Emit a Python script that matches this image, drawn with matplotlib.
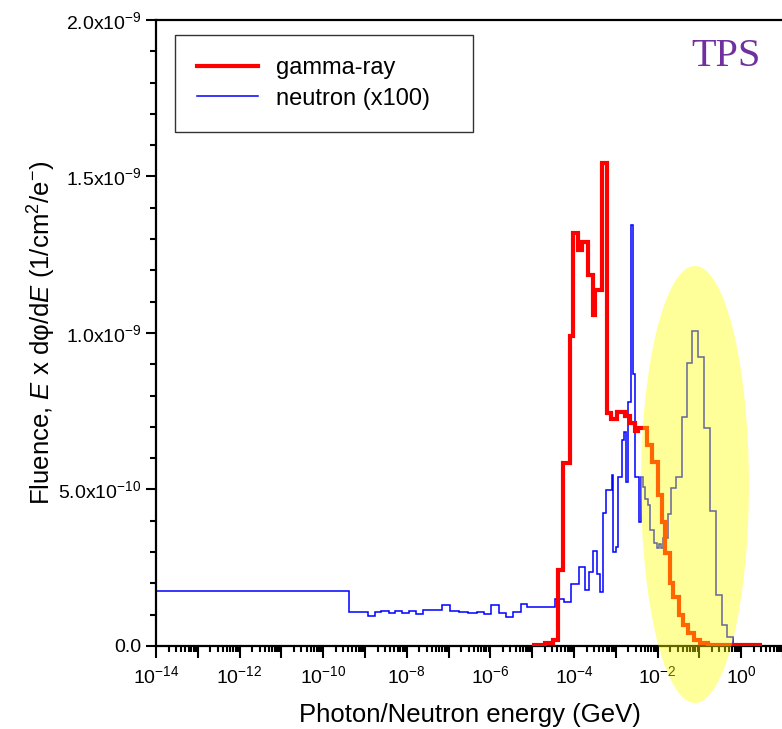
import numpy as np
import matplotlib
matplotlib.use('Agg')
import matplotlib.pyplot as plt
from matplotlib.patches import Ellipse
from matplotlib.legend_handler import HandlerStepPatch
from matplotlib.ticker import LogLocator, FuncFormatter, MultipleLocator, NullFormatter

plt.rcParams['font.family'] = 'Liberation Sans'
plt.rcParams['mathtext.fontset'] = 'custom'
plt.rcParams['mathtext.rm'] = 'Liberation Sans'
plt.rcParams['mathtext.it'] = 'Liberation Sans:italic'

# bin edges given as log10(E / GeV), fluence in units of 1e-9 1/cm^2/e-
gamma_log_edges = [-5.0, -4.7, -4.5, -4.38, -4.27, -4.1, -4.02, -3.9, -3.82, -3.67,
                   -3.55, -3.50, -3.34, -3.22, -3.12, -2.98, -2.78, -2.66, -2.54, -2.46,
                   -2.26, -2.14, -2.00, -1.90, -1.82, -1.70, -1.62, -1.50, -1.385, -1.27,
                   -1.13, -0.99, -0.79, 0.49]
gamma_values = [0.003, 0.008, 0.02, 0.243, 0.585, 0.99, 1.32, 1.265, 1.29, 1.185,
                1.058, 1.137, 1.543, 0.743, 0.725, 0.748, 0.735, 0.712, 0.688, 0.697,
                0.642, 0.587, 0.482, 0.397, 0.296, 0.200, 0.158, 0.100, 0.067, 0.041,
                0.019, 0.009, 0.002]

# neutron spectrum, already multiplied by 100
neutron_log_edges = [-14, -9.376, -8.92, -8.76, -8.62, -8.42, -8.28, -8.12, -7.94, -7.78,
                     -7.62, -7.17, -6.97, -6.74, -6.53, -6.33, -6.15, -5.99, -5.79, -5.63,
                     -5.47, -5.27, -5.13, -4.45, -4.24, -4.07, -3.88, -3.74, -3.63, -3.55,
                     -3.44, -3.38, -3.30, -3.235, -3.10, -3.06, -3.00, -2.94, -2.86, -2.80,
                     -2.76, -2.70, -2.64, -2.60, -2.54, -2.44, -2.40, -2.36, -2.30, -2.22,
                     -2.18, -2.09, -2.02, -1.97, -1.93, -1.864, -1.744, -1.687, -1.567, -1.424,
                     -1.29, -1.17, -1.03, -0.89, -0.75, -0.61, -0.47, -0.35, -0.19, 0.49]
neutron_values = [0.176, 0.110, 0.097, 0.110, 0.113, 0.106, 0.113, 0.106, 0.113, 0.102,
                  0.114, 0.131, 0.113, 0.108, 0.106, 0.110, 0.102, 0.131, 0.106, 0.091,
                  0.110, 0.135, 0.126, 0.150, 0.142, 0.197, 0.253, 0.179, 0.237, 0.305,
                  0.230, 0.171, 0.424, 0.498, 0.546, 0.300, 0.317, 0.539, 0.658, 0.685,
                  0.525, 0.780, 1.345, 0.869, 0.541, 0.397, 0.541, 0.509, 0.470, 0.450,
                  0.370, 0.330, 0.312, 0.325, 0.312, 0.344, 0.422, 0.504, 0.539, 0.733,
                  0.905, 1.006, 0.922, 0.695, 0.432, 0.163, 0.067, 0.030, 0.003]

y_ticks = [0.0, 0.5e-9, 1.0e-9, 1.5e-9, 2.0e-9]
y_tick_labels = ['0.0', '5.0x10$^{-10}$', '1.0x10$^{-9}$', '1.5x10$^{-9}$', '2.0x10$^{-9}$']

fig = plt.figure(figsize=(7.82, 7.29), dpi=100)
ax = fig.add_axes([0.1995, 0.1139, 0.8018, 0.8587])

ax.stairs(np.array(neutron_values) * 1e-9, 10.0 ** np.array(neutron_log_edges),
          baseline=None, color='#0000ff', linewidth=1.1, label='neutron (x100)', zorder=2)
ax.stairs(np.array(gamma_values) * 1e-9, 10.0 ** np.array(gamma_log_edges),
          baseline=None, color='#ff0000', linewidth=3.0, label='gamma-ray', zorder=3)

ax.set_xscale('log')
ax.set_xlim(1e-14, 1e1)
ax.set_ylim(0, 2.0e-9)

ax.xaxis.set_major_locator(LogLocator(base=10, numticks=30))
ax.xaxis.set_minor_locator(LogLocator(base=10, subs=np.arange(2, 10), numticks=30))
ax.xaxis.set_minor_formatter(NullFormatter())


def xfmt(v, pos):
    e = int(round(np.log10(v)))
    return f'10$^{{{e}}}$' if e % 2 == 0 else ''


ax.xaxis.set_major_formatter(FuncFormatter(xfmt))

ax.set_yticks(y_ticks)
ax.set_yticklabels(y_tick_labels)
ax.yaxis.set_minor_locator(MultipleLocator(0.1e-9))

ax.tick_params(axis='x', which='major', direction='out', length=8.5, width=1.5,
               labelsize=14, pad=5)
ax.tick_params(axis='x', which='minor', direction='out', length=4, width=1.5)
ax.tick_params(axis='y', which='major', direction='out', length=7.5, width=1.5,
               labelsize=14, pad=3)
ax.tick_params(axis='y', which='minor', direction='out', length=4, width=1.5)
for side in ['left', 'bottom', 'top']:
    ax.spines[side].set_linewidth(1.6)
ax.spines['right'].set_visible(False)

ax.set_xlabel('Photon/Neutron energy (GeV)', fontsize=18.5, labelpad=12)
ax.set_ylabel('Fluence, $\\mathit{E}$ x dφ/d$\\mathit{E}$ (1/cm$^2$/e$^{-}$)',
              fontsize=18.5, labelpad=0)

handles, labels = ax.get_legend_handles_labels()
leg = ax.legend(handles[::-1], labels[::-1], loc='upper left',
                bbox_to_anchor=(0.030, 0.821, 0.476, 0.155), mode='expand',
                fontsize=17, frameon=True, fancybox=False, edgecolor='black',
                handlelength=3.0, handletextpad=0.35, borderpad=0.95, labelspacing=0.35,
                borderaxespad=0,
                handler_map={h: HandlerStepPatch(xpad=0.42) for h in handles})
leg.get_frame().set_linewidth(1.0)

ax.text(0.909, 0.941, 'TPS', transform=ax.transAxes, ha='center', va='center',
        fontsize=29, family='Liberation Serif', color='#7030a0')

fig.add_artist(Ellipse((0.8887, 0.3354), 0.1381, 0.5995, transform=fig.transFigure,
                       facecolor='#ffff00', edgecolor='none', alpha=0.4, zorder=5))

fig.savefig('out.png', dpi=100)
